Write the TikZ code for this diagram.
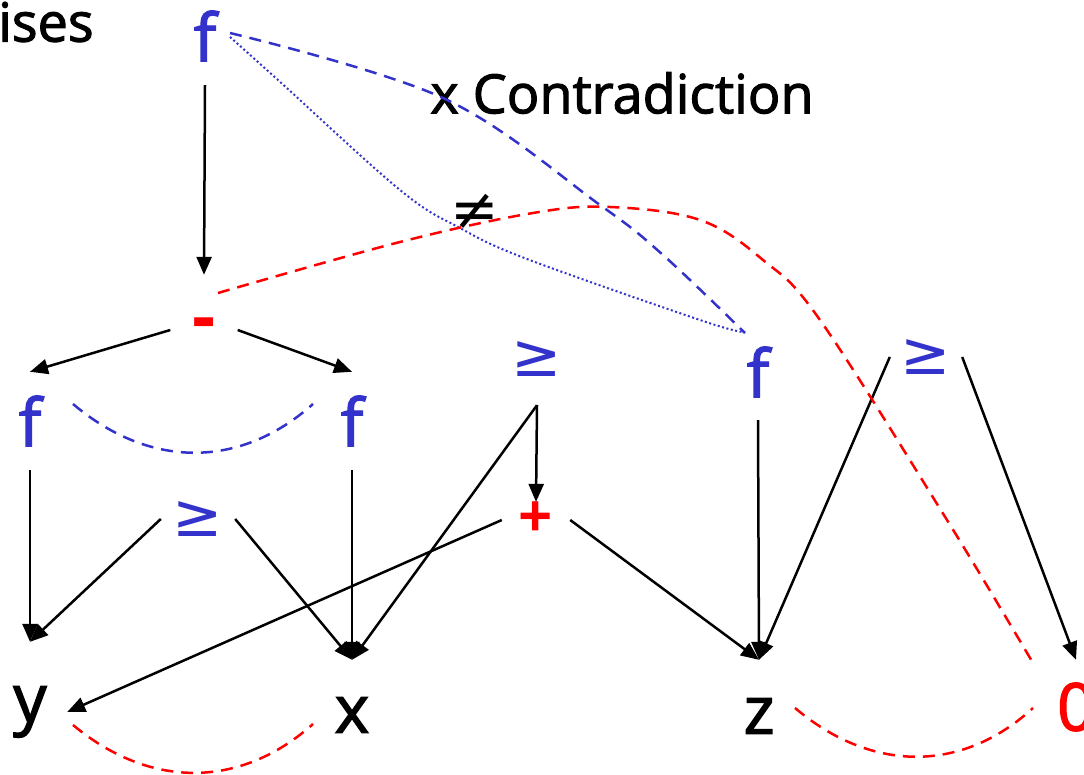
\documentclass[tikz,border=0pt]{standalone}
\usepackage{fontspec}
\setmainfont{Open Sans}
\newfontfamily\heavy{Open Sans}[FakeBold=2]
\newfontfamily\symfont{DejaVu Sans}
\usetikzlibrary{arrows.meta,calc}
\definecolor{vblue}{RGB}{51,51,204}
\definecolor{vred}{RGB}{255,0,0}
\begin{document}
\begin{tikzpicture}[x=1pt,y=-1pt,
  var/.style={inner sep=0pt,font=\heavy\fontsize{66}{66}\selectfont},
  bvar/.style={var,text=vblue},
  rel/.style={inner sep=0pt,text=vblue,font=\symfont\fontsize{60}{60}\selectfont},
  op/.style={inner sep=0pt,text=vred,font=\bfseries\fontsize{60}{60}\selectfont},
  big/.style={inner sep=0pt,font=\heavy\fontsize{54}{54}\selectfont},
  arr/.style={line width=2.5pt,-{Triangle[length=18pt,width=15pt]}},
  rdash/.style={vred,line width=2.5pt,dash pattern=on 12pt off 8pt},
  bdash/.style={vblue,line width=2.5pt,dash pattern=on 12pt off 8pt},
  bdot/.style={vblue,line width=2pt,dash pattern=on 2pt off 2.5pt},
]
\useasboundingbox (0,0) rectangle (1084,775);
% text
\node[big,anchor=west] (ises) at (-2,22) {ises};
\node[big] (contra) at (622,93) {x Contradiction};
\node[inner sep=0pt,font=\symfont\fontsize{58}{58}\selectfont] (neq) at (475,212) {≠};
% nodes
\node[bvar,minimum width=50,minimum height=98] (f0) at (205,36) {f};
\node[op,font=\bfseries\fontsize{72}{72}\selectfont,minimum width=67,minimum height=110] (minus) at (204,330) {-};
\node[bvar,minimum height=98] (fL) at (30,421) {f};
\node[bvar,minimum height=98] (fR) at (352,421) {f};
\node[rel,minimum height=92] (ge1) at (537,359) {≥};
\node[rel,minimum width=74] (ge2) at (198,519) {≥};
\node[op,minimum width=68] (plus) at (536,520) {+};
\node[bvar,minimum height=96] (f3) at (758,372) {f};
\node[rel,minimum width=72] (ge4) at (926,357) {≥};
\node[var,minimum width=74,minimum height=140] (y) at (30,712) {y};
\node[var,minimum height=110] (x) at (352,715) {x};
\node[var,minimum height=112] (z) at (759,716) {z};
\node[var,text=vred,minimum height=94] (zero) at (1076,707) {0};
% arrows
\draw[arr] (f0.south) -- (minus.north);
\draw[arr] (minus.west) -- (fL.north);
\draw[arr] (minus.east) -- (fR.north);
\draw[arr] (fL.south) -- (y.north);
\draw[arr] (fR.south) -- (x.north);
\draw[arr] (ge2.west) -- (y.north);
\draw[arr] (ge2.east) -- (x.north);
\draw[arr] (ge1.south) -- (plus.north);
\draw[arr] (ge1.south) -- (x.north);
\draw[arr] (plus.west) -- (y.east);
\draw[arr] (plus.east) -- (z.north);
\draw[arr] (f3.south) -- (z.north);
\draw[arr] (ge4.west) -- (z.north);
\draw[arr] (ge4.east) -- (zero.north);
% dashed relations
\coordinate (fLe) at (73,404);
\coordinate (fRw) at (313,404);
\draw[bdash] (fLe) .. controls (150,469) and (240,469) .. (fRw);
\coordinate (ye) at (73,725);
\coordinate (xw) at (313,724);
\draw[rdash] (ye) .. controls (150,789) and (240,789) .. (xw);
\coordinate (ze) at (795,708);
\coordinate (zerow) at (1033,708);
\draw[rdash] (ze) .. controls (872,773) and (962,773) .. (zerow);
\coordinate (f0e) at (230,33);
\coordinate (f3nw) at (745,333);
\draw[bdash] plot[smooth,tension=0.6] coordinates {(f0e) (443,98) (600,205) (663,255) (f3nw)};
\coordinate (f0se) at (230,37);
\coordinate (f3nw2) at (743,332);
\draw[bdot] plot[smooth,tension=0.6] coordinates {(f0se) (278,80) (400,190) (460,228) (527,259) (700,320) (f3nw2)};
\coordinate (minusne) at (218,293);
\coordinate (zeronw) at (1033,663);
\draw[rdash] plot[smooth,tension=0.6] coordinates {(minusne) (400,242) (533,213) (610,207) (700,220) (763,260) (820,320) (947,520) (zeronw)};
\end{tikzpicture}
\end{document}
